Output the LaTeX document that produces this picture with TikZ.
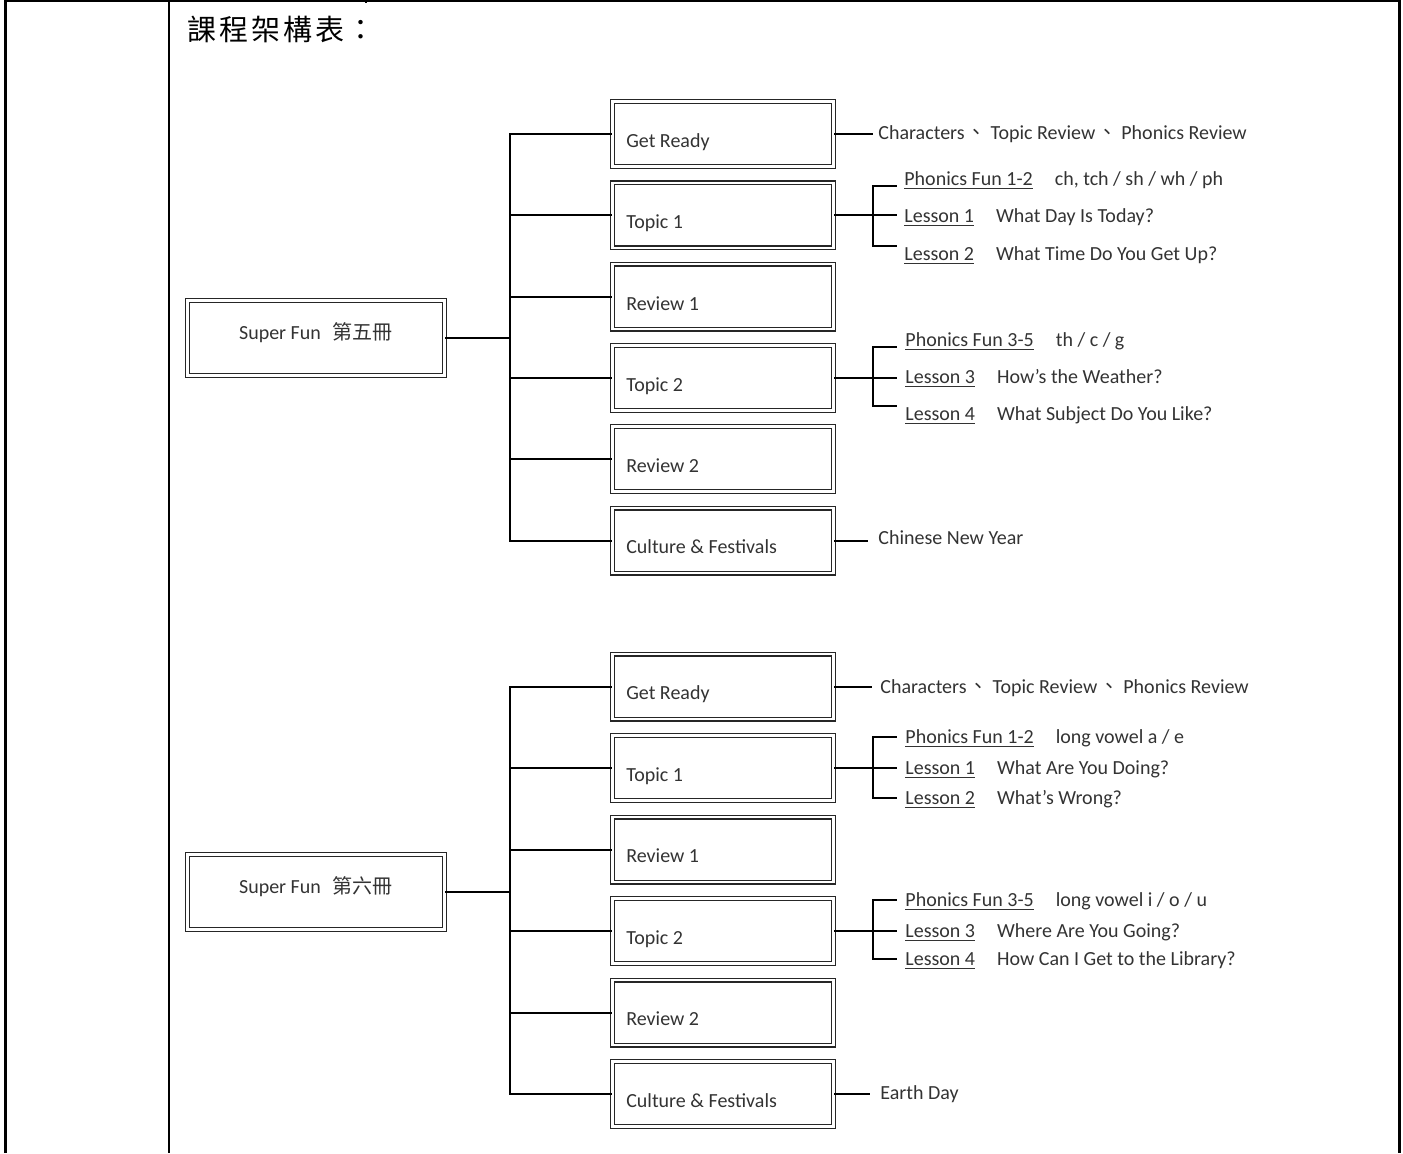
\documentclass[tikz,border=0pt]{standalone}
\usepackage{fontspec}
\setmainfont{Carlito}
\newfontfamily\cjk{Noto Sans CJK TC}
\newfontfamily\cjktitle[LetterSpace=10]{Noto Sans CJK TC}
\usepackage{tikz}

\newcommand{\lessonrow}[2]{\underline{#1}\hspace{11pt}#2}
\newcommand{\dunhao}{\hspace{1pt}{\cjk 、}\hspace{2pt}}

\tikzset{
  tableline/.style={line width=1.2pt},
  conn/.style={line width=1pt},
  unitbox/.style={draw=black!85, double=white, double distance=1.3pt, line width=0.6pt,
    minimum width=110.5pt, minimum height=32.5pt, inner sep=0pt},
  bookbox/.style={unitbox, minimum width=128.5pt, minimum height=37.5pt},
  boxtxt/.style={anchor=base west, inner sep=0pt, xshift=7pt, yshift=-6.7pt, text=black!80},
  booktxt/.style={anchor=center, inner sep=0pt, yshift=2.5pt, text=black!80},
  topicitem/.style={anchor=west, inner xsep=2.5pt, inner ysep=0pt, text height=8pt, text depth=2pt, text=black!80},
  lessonitem/.style={topicitem, inner xsep=4pt}
}

\begin{document}
\begin{tikzpicture}[x=0.5pt, y=-0.5pt]
\useasboundingbox (0,0) rectangle (1403,1153);

% table cell
\draw[tableline] (5.5,1153) -- (5.5,1) -- (1399.5,1) -- (1399.5,1153);
\draw[tableline] (169,1) -- (169,1153);
\draw[tableline] (366,0) -- (366,3);
\node[anchor=west, inner sep=0pt, font=\cjktitle\fontsize{14.5pt}{14.5pt}\selectfont] (title) at (187,29) {課程架構表：};

% Super Fun 5
\node[bookbox] (bk5) at (316,338) {};
\node[booktxt] (bk5t) at (bk5.center) {Super Fun\hspace{6pt}{\cjk 第五冊}};
\node[unitbox, label={[boxtxt]west:Get Ready}] (gr5) at (723,134) {};
\node[unitbox, label={[boxtxt]west:Topic 1}] (t15) at (723,215.3) {};
\node[unitbox, label={[boxtxt]west:Review 1}] (r15) at (723,296.6) {};
\node[unitbox, label={[boxtxt]west:Topic 2}] (t25) at (723,377.9) {};
\node[unitbox, label={[boxtxt]west:Review 2}] (r25) at (723,459.2) {};
\node[unitbox, label={[boxtxt]west:Culture \& Festivals}] (cf5) at (723,540.5) {};

\coordinate (tr5) at (510,338);
\draw[conn] (bk5.east) -- (tr5);
\foreach \b in {gr5,t15,r15,t25,r25,cf5}
  \draw[conn] (tr5) |- (\b.west);

\node[topicitem] (gr5i) at (873,133) {Characters\dunhao Topic Review\dunhao Phonics Review};
\draw[conn] (gr5.east) -- (gr5.east -| gr5i.west);

\coordinate (j5a) at (873,215.3);
\coordinate (k5a1) at (897,186);
\coordinate (k5a2) at (897,215.3);
\coordinate (k5a3) at (897,246);
\draw[conn] (t15.east) -- (j5a);
\draw[conn] (j5a) |- (k5a1);
\draw[conn] (j5a) -- (k5a2);
\draw[conn] (j5a) |- (k5a3);
\node[topicitem] (pf5a) at (899,179) {\lessonrow{Phonics Fun 1-2}{ch, tch / sh / wh / ph}};
\node[topicitem] (ls5a) at (899,216.5) {\lessonrow{Lesson 1}{What Day Is Today?}};
\node[topicitem] (ls5b) at (899,254) {\lessonrow{Lesson 2}{What Time Do You Get Up?}};

\coordinate (j5b) at (873,377.9);
\coordinate (k5b1) at (897,347);
\coordinate (k5b2) at (897,377.9);
\coordinate (k5b3) at (897,406);
\draw[conn] (t25.east) -- (j5b);
\draw[conn] (j5b) |- (k5b1);
\draw[conn] (j5b) -- (k5b2);
\draw[conn] (j5b) |- (k5b3);
\node[topicitem] (pf5b) at (900,340) {\lessonrow{Phonics Fun 3-5}{th / c / g}};
\node[topicitem] (ls5c) at (900,377) {\lessonrow{Lesson 3}{How’s the Weather?}};
\node[topicitem] (ls5d) at (900,414) {\lessonrow{Lesson 4}{What Subject Do You Like?}};

\node[topicitem] (cf5i) at (873,538) {Chinese New Year};
\draw[conn, shorten >=2.5pt] (cf5.east) -- (cf5.east -| cf5i.west);

% Super Fun 6
\node[bookbox] (bk6) at (316,892) {};
\node[booktxt] (bk6t) at (bk6.center) {Super Fun\hspace{6pt}{\cjk 第六冊}};
\node[unitbox, label={[boxtxt]west:Get Ready}] (gr6) at (723,686.5) {};
\node[unitbox, label={[boxtxt]west:Topic 1}] (t16) at (723,768) {};
\node[unitbox, label={[boxtxt]west:Review 1}] (r16) at (723,849.5) {};
\node[unitbox, label={[boxtxt]west:Topic 2}] (t26) at (723,931) {};
\node[unitbox, label={[boxtxt]west:Review 2}] (r26) at (723,1012.5) {};
\node[unitbox, label={[boxtxt]west:Culture \& Festivals}] (cf6) at (723,1094) {};

\coordinate (tr6) at (510,892);
\draw[conn] (bk6.east) -- (tr6);
\foreach \b in {gr6,t16,r16,t26,r26,cf6}
  \draw[conn] (tr6) |- (\b.west);

\node[topicitem] (gr6i) at (875,687) {Characters\dunhao Topic Review\dunhao Phonics Review};
\draw[conn, shorten >=1.5pt] (gr6.east) -- (gr6.east -| gr6i.west);

\coordinate (j6a) at (873,768);
\node[lessonitem] (pf6a) at (897,737) {\lessonrow{Phonics Fun 1-2}{long vowel a / e}};
\node[lessonitem] (ls6a) at (897,768) {\lessonrow{Lesson 1}{What Are You Doing?}};
\node[lessonitem] (ls6b) at (897,798) {\lessonrow{Lesson 2}{What’s Wrong?}};
\draw[conn] (t16.east) -- (j6a);
\draw[conn] (j6a) |- (pf6a.west);
\draw[conn] (j6a) -- (ls6a.west);
\draw[conn] (j6a) |- (ls6b.west);

\coordinate (j6b) at (873,931);
\node[lessonitem] (pf6b) at (897,900) {\lessonrow{Phonics Fun 3-5}{long vowel i / o / u}};
\node[lessonitem] (ls6c) at (897,931) {\lessonrow{Lesson 3}{Where Are You Going?}};
\node[lessonitem] (ls6d) at (897,959) {\lessonrow{Lesson 4}{How Can I Get to the Library?}};
\draw[conn] (t26.east) -- (j6b);
\draw[conn] (j6b) |- (pf6b.west);
\draw[conn] (j6b) -- (ls6c.west);
\draw[conn] (j6b) |- (ls6d.west);

\node[topicitem] (cf6i) at (875,1093) {Earth Day};
\draw[conn, shorten >=2.5pt] (cf6.east) -- (cf6.east -| cf6i.west);
\end{tikzpicture}
\end{document}
